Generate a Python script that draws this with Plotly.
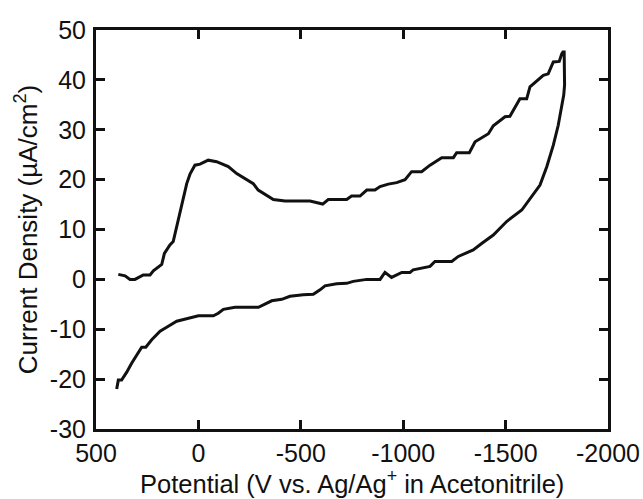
import plotly.graph_objects as go

# Forward (upper) branch: potential (mV) vs current density (uA/cm2)
upper_potential = [391, 358, 334, 310, 269, 236, 220, 179, 166, 139, 123, 114, 106, 85, 74, 57, 41, 17, -8,
                   -48, -89, -146, -187, -219, -236, -268, -292, -325, -366, -423, -545, -607, -634, -724,
                   -748, -789, -822, -862, -887, -927, -968, -1009, -1041, -1090, -1131, -1188, -1245, -1261,
                   -1323, -1351, -1416, -1440, -1497, -1521, -1570, -1603, -1619, -1684, -1708, -1733, -1762,
                   -1774, -1780, -1786, -1788]
upper_current = [1.0, 0.7, 0.0, 0.0, 0.9, 0.9, 1.7, 3.0, 5.2, 6.9, 7.6, 9.2, 10.9, 14.6, 16.6, 19.2, 21.1, 22.9,
                 23.1, 23.9, 23.6, 22.6, 21.2, 20.4, 19.9, 19.2, 17.9, 17.1, 16.0, 15.7, 15.7, 15.1, 16.0, 16.0,
                 16.7, 16.7, 17.9, 17.9, 18.6, 19.1, 19.4, 20.0, 21.6, 21.6, 22.9, 24.4, 24.4, 25.4, 25.4, 27.6,
                 29.2, 30.8, 32.6, 32.7, 36.2, 36.2, 38.6, 40.9, 41.2, 43.6, 43.7, 45.2, 45.6, 45.6, 39.0]

# Reverse (lower) branch
lower_potential = [-1784, -1774, -1757, -1733, -1701, -1668, -1627, -1579, -1505, -1440, -1383, -1342, -1269,
                   -1237, -1155, -1131, -1049, -1033, -993, -943, -911, -887, -822, -756, -724, -675, -618,
                   -594, -561, -512, -447, -407, -358, -293, -179, -122, -97, -73, 0, 49, 106, 155, 187, 228,
                   257, 277, 301, 326, 350, 375, 391, 399]
lower_current = [37.0, 34.6, 30.9, 26.9, 22.6, 18.9, 16.6, 13.9, 11.6, 8.9, 7.2, 5.9, 4.6, 3.6, 3.6, 2.6, 1.9,
                 1.4, 1.4, 0.4, 1.4, 0.0, 0.0, -0.4, -0.8, -0.9, -1.3, -2.1, -3.0, -3.1, -3.4, -4.0, -4.3,
                 -5.6, -5.6, -6.0, -6.8, -7.3, -7.3, -7.8, -8.4, -9.6, -10.4, -12.1, -13.6, -13.6, -15.1,
                 -16.8, -18.6, -20.2, -20.2, -22.0]

x_ticks = [500, 0, -500, -1000, -1500, -2000]
y_ticks = [-30, -20, -10, 0, 10, 20, 30, 40, 50]

x_title = "Potential (V vs. Ag/Ag<sup>+</sup> in Acetonitrile)"
y_title = "Current Density (µA/cm<sup>2</sup>)"

FONT = "Liberation Sans, Arial, Helvetica, sans-serif"

fig = go.Figure()
fig.add_trace(go.Scatter(
    x=upper_potential + lower_potential,
    y=upper_current + lower_current,
    mode="lines",
    line=dict(color="#111111", width=3),
    showlegend=False,
    hoverinfo="skip",
))

axis_common = dict(
    showline=True, linewidth=3, linecolor="#111111",
    mirror="allticks", ticks="inside", ticklen=9, tickwidth=2.5, tickcolor="#111111",
    showgrid=False, zeroline=False, automargin=False,
    tickfont=dict(family=FONT, size=25, color="#111111"),
)

fig.update_layout(
    template="none",
    width=643, height=499,
    margin=dict(l=96, r=35, t=30, b=70, pad=0),
    paper_bgcolor="white", plot_bgcolor="white",
    font=dict(family=FONT, color="#111111"),
    xaxis=dict(
        range=[500, -2000], tickmode="array", tickvals=x_ticks,
        ticktext=[str(v) for v in x_ticks],
        ticklabelstandoff=0,
        **axis_common,
    ),
    yaxis=dict(
        range=[-30, 50], tickmode="array", tickvals=y_ticks,
        ticktext=[str(v) for v in y_ticks],
        title=dict(text=y_title, font=dict(family=FONT, size=26, color="#111111"), standoff=5),
        ticklabelstandoff=2,
        **axis_common,
    ),
    annotations=[dict(
        text=x_title, xref="paper", yref="paper", x=0.5, y=-0.132,
        xanchor="center", yanchor="middle", showarrow=False,
        font=dict(family=FONT, size=25.5, color="#111111"),
    )],
)

fig.write_html("out.html", config={"displayModeBar": False},
               post_script="document.body.style.margin='0';")
